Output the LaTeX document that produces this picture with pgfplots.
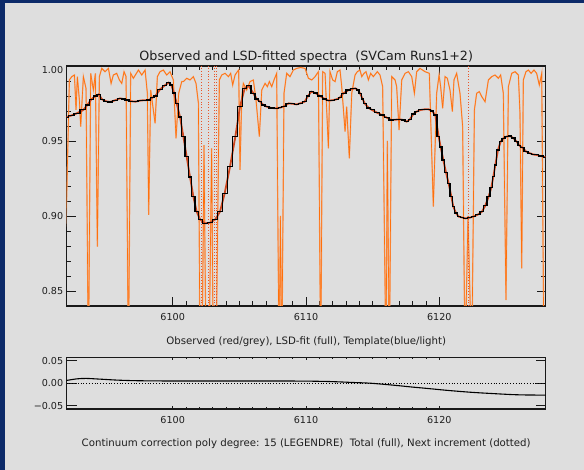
\documentclass[border=0pt]{standalone}
\usepackage{fontspec}
\setmainfont{DejaVu Sans}
\usepackage{pgfplots}
\pgfplotsset{compat=1.18}
\definecolor{bgc}{RGB}{222,222,222}
\definecolor{frameblue}{RGB}{12,42,105}
\definecolor{orgdark}{RGB}{255,112,10}
\definecolor{orglight}{RGB}{246,165,115}
\definecolor{obsred}{RGB}{205,70,30}
\definecolor{dotred}{RGB}{232,85,40}
\definecolor{axc}{RGB}{25,25,25}
\definecolor{txt}{RGB}{30,30,30}
\begin{document}
\begin{tikzpicture}[x=1bp,y=1bp]
\useasboundingbox (0,0) rectangle (584,470);
\fill[frameblue] (0,0) rectangle (584,470);
\fill[bgc] (5,0) rectangle (584,467);
\pgfplotsset{
  myaxis/.style={
    scale only axis, anchor=south west,
    xmin=6092.05, xmax=6127.98,
    xtick={6100,6110,6120}, xticklabels={6100,6110,6120},
    minor x tick num=9,
    tick align=inside,
    xtick pos=both, ytick pos=both,
    xticklabel pos=lower, yticklabel pos=left,
    scaled x ticks=false, scaled y ticks=false,
    axis line style={axc, line width=1.1pt},
    every tick/.style={axc, line width=0.8pt},
    tick label style={font=\fontsize{9.6bp}{11bp}\selectfont, text=txt},
    xticklabel style={anchor=base, yshift=-14.5bp},
    clip=true,
  }
}
% ---------------- top panel ----------------
\begin{axis}[myaxis,
  at={(66.7bp,164bp)}, width=479bp, height=240bp,
  ymin=0.84, ymax=1.0,
  ytick={0.85,0.90,0.95,1.00},
  yticklabels={0.85,0.90,0.95,\raisebox{-3.7bp}[7bp][0bp]{1.00}},
  minor y tick num=4,
  major tick length=9bp, minor tick length=4.5bp,
]
% observed spectrum (orange), two tones
\def\obsdata{(6092.0,0.893) (6092.25,0.9907) (6092.43,0.9929) (6092.63,0.994) (6092.75,0.9707) (6092.85,0.9929) (6093.0,0.9773) (6093.1,0.9596) (6093.3,0.9929) (6093.5,0.985) (6093.68,0.80) (6093.85,0.9951) (6094.05,0.984) (6094.2,0.995) (6094.35,0.8796) (6094.5,0.9929) (6094.68,0.9984) (6094.93,0.9962) (6095.18,0.9984) (6095.38,0.9884) (6095.55,0.994) (6095.8,0.9951) (6096.0,0.9907) (6096.18,0.9884) (6096.35,0.9962) (6096.5,0.993) (6096.68,0.80) (6096.85,0.9951) (6097.05,0.9918) (6097.43,0.9973) (6097.68,0.994) (6097.93,0.9973) (6098.1,0.9818) (6098.2,0.9007) (6098.35,0.984) (6098.68,0.9618) (6098.85,0.9929) (6099.05,0.9962) (6099.3,0.9973) (6099.55,0.994) (6099.8,0.9962) (6100.05,0.9907) (6100.25,0.9518) (6100.45,0.9818) (6100.68,0.9896) (6100.8,0.9896) (6101.05,0.9918) (6101.3,0.9907) (6101.55,0.9929) (6101.75,0.9884) (6101.93,0.9751) (6102.05,0.80) (6102.2,0.80) (6102.35,0.9473) (6102.5,0.80) (6102.75,0.82) (6102.92,0.9451) (6103.05,0.80) (6103.25,0.80) (6103.5,0.9907) (6103.68,0.994) (6103.93,0.9951) (6104.18,0.9929) (6104.35,0.9951) (6104.5,0.9873) (6104.68,0.994) (6104.85,0.9962) (6104.95,0.9973) (6105.05,0.9307) (6105.18,0.9796) (6105.3,0.9884) (6105.55,0.984) (6105.8,0.9896) (6106.05,0.9907) (6106.25,0.9773) (6106.5,0.9529) (6106.68,0.984) (6106.93,0.9884) (6107.1,0.9862) (6107.25,0.9896) (6107.43,0.9862) (6107.6,0.9907) (6107.8,0.9951) (6107.98,0.80) (6108.08,0.90) (6108.18,0.80) (6108.35,0.9818) (6108.55,0.9951) (6108.8,0.9929) (6109.05,0.9973) (6109.3,0.9984) (6109.6,0.999) (6109.93,0.9984) (6110.18,0.9918) (6110.43,0.9907) (6110.68,0.9929) (6110.93,0.9962) (6111.1,0.80) (6111.25,0.9962) (6111.43,0.9951) (6111.68,0.9451) (6111.8,0.9962) (6112.0,0.9907) (6112.18,0.9896) (6112.35,0.9962) (6112.55,0.9973) (6112.68,0.9862) (6112.93,0.9562) (6113.05,0.9729) (6113.25,0.9384) (6113.43,0.9818) (6113.68,0.994) (6113.85,0.9962) (6114.05,0.9973) (6114.18,0.9929) (6114.35,0.9951) (6114.5,0.9962) (6114.68,0.9907) (6114.85,0.9951) (6115.05,0.9929) (6115.35,0.9962) (6115.55,0.994) (6115.75,0.9862) (6116.0,0.80) (6116.1,0.95) (6116.25,0.80) (6116.43,0.9929) (6116.68,0.9907) (6116.8,0.9862) (6116.98,0.9573) (6117.18,0.9907) (6117.43,0.9951) (6117.68,0.9962) (6117.93,0.9929) (6118.13,0.9818) (6118.3,0.9962) (6118.55,0.9984) (6118.93,0.9962) (6119.25,0.9951) (6119.55,0.9062) (6119.8,0.9818) (6119.98,0.994) (6120.1,0.9862) (6120.25,0.9718) (6120.43,0.9929) (6120.6,0.9918) (6120.8,0.984) (6120.98,0.9696) (6121.1,0.9907) (6121.3,0.9951) (6121.55,0.9818) (6121.75,0.9596) (6121.93,0.80) (6122.15,0.90) (6122.43,0.80) (6122.63,0.9707) (6122.8,0.9818) (6123.0,0.9829) (6123.18,0.9796) (6123.43,0.9762) (6123.68,0.9907) (6123.93,0.9929) (6124.18,0.994) (6124.43,0.9918) (6124.6,0.994) (6124.8,0.9818) (6125.0,0.844) (6125.18,0.9862) (6125.43,0.9951) (6125.68,0.9962) (6125.93,0.994) (6126.05,0.9684) (6126.18,0.8651) (6126.3,0.9907) (6126.5,0.9962) (6126.68,0.9973) (6126.88,0.9951) (6127.1,0.9973) (6127.3,0.9951) (6127.5,0.9873) (6127.68,0.9951) (6127.85,0.80) (6128.0,0.80)}
\addplot[orglight, line width=1.3pt] coordinates {\obsdata};
\addplot[orgdark, line width=0.6pt] coordinates {\obsdata};
% line positions (dotted)
\addplot[dotred, dotted, line width=0.8pt] coordinates {(6102.12,0.84) (6102.12,1.0)};
\addplot[dotred, dotted, line width=0.8pt] coordinates {(6102.67,0.84) (6102.67,1.0)};
\addplot[dotred, dotted, line width=0.8pt] coordinates {(6103.12,0.84) (6103.12,1.0)};
\addplot[dotred, dotted, line width=0.8pt] coordinates {(6103.25,0.84) (6103.25,1.0)};
\addplot[dotred, dotted, line width=0.8pt] coordinates {(6122.2,0.84) (6122.2,1.0)};
% LSD fit
\def\fitdata{(6092.0,0.9658) (6092.4,0.967) (6092.8,0.9684) (6093.3,0.9707) (6093.6,0.974) (6093.9,0.9778) (6094.2,0.980) (6094.45,0.9811) (6094.7,0.9778) (6095.0,0.9765) (6095.3,0.976) (6095.7,0.9772) (6096.05,0.9784) (6096.3,0.978) (6096.55,0.9773) (6096.9,0.9765) (6097.2,0.9762) (6097.6,0.977) (6097.9,0.9772) (6098.2,0.9773) (6098.5,0.979) (6098.7,0.980) (6099.05,0.9844) (6099.4,0.987) (6099.7,0.9889) (6099.9,0.9873) (6100.1,0.982) (6100.3,0.9751) (6100.55,0.966) (6100.8,0.953) (6101.05,0.9395) (6101.3,0.926) (6101.55,0.9129) (6101.8,0.9029) (6102.05,0.8978) (6102.4,0.8951) (6102.8,0.8955) (6103.2,0.8978) (6103.55,0.9029) (6103.9,0.9151) (6104.3,0.9329) (6104.7,0.9529) (6105.05,0.9729) (6105.4,0.9851) (6105.7,0.9867) (6106.05,0.9818) (6106.3,0.978) (6106.55,0.9762) (6106.8,0.974) (6107.05,0.9729) (6107.4,0.972) (6107.8,0.9718) (6108.05,0.9722) (6108.3,0.9729) (6108.7,0.9751) (6109.0,0.9748) (6109.3,0.9744) (6109.6,0.9752) (6109.9,0.9762) (6110.15,0.980) (6110.4,0.9829) (6110.7,0.982) (6111.05,0.980) (6111.4,0.978) (6111.7,0.9769) (6112.0,0.9772) (6112.3,0.9778) (6112.55,0.979) (6112.8,0.9818) (6113.2,0.984) (6113.5,0.9848) (6113.7,0.9851) (6113.9,0.984) (6114.05,0.9818) (6114.25,0.978) (6114.4,0.9751) (6114.7,0.972) (6114.95,0.9707) (6115.3,0.969) (6115.7,0.9673) (6116.05,0.9656) (6116.4,0.964) (6116.7,0.9642) (6117.05,0.9644) (6117.3,0.964) (6117.55,0.9629) (6117.8,0.9645) (6118.05,0.968) (6118.3,0.9696) (6118.6,0.9707) (6118.9,0.9711) (6119.2,0.9711) (6119.45,0.970) (6119.7,0.9673) (6119.95,0.9529) (6120.1,0.946) (6120.3,0.9373) (6120.5,0.929) (6120.7,0.9218) (6120.9,0.913) (6121.05,0.9062) (6121.25,0.902) (6121.45,0.8996) (6121.7,0.899) (6121.95,0.8984) (6122.25,0.8988) (6122.55,0.8996) (6122.9,0.901) (6123.2,0.9029) (6123.45,0.907) (6123.7,0.9129) (6123.9,0.919) (6124.05,0.9262) (6124.2,0.934) (6124.4,0.944) (6124.6,0.9495) (6124.8,0.9518) (6125.05,0.953) (6125.3,0.9533) (6125.55,0.952) (6125.8,0.9496) (6126.0,0.947) (6126.2,0.9458) (6126.5,0.943) (6126.8,0.9418) (6127.05,0.941) (6127.3,0.9407) (6127.6,0.940) (6127.98,0.9391)}
\addplot[obsred, line width=1.8pt] coordinates {\fitdata};
\addplot[black, line width=1.1pt, const plot mark mid] coordinates {\fitdata};
\end{axis}
% ---------------- bottom panel ----------------
\begin{axis}[myaxis,
  at={(66.7bp,61bp)}, width=479bp, height=51.7bp,
  ymin=-0.0575, ymax=0.0575,
  ytick={-0.05,0,0.05}, yticklabels={−0.05,0.00,0.05},
  major tick length=3bp, minor tick length=1.5bp,
  ytick style={/pgfplots/major tick length=10bp},
]
\addplot[black, dotted, line width=0.8pt] coordinates {(6092.05,0) (6127.98,0)};
\addplot[black, line width=1.1pt, smooth] coordinates {(6092.0,0.0058) (6092.8,0.0095) (6093.5,0.0105) (6094.5,0.009) (6095.8,0.0068) (6097,0.0056) (6098.5,0.005) (6100,0.0048) (6102,0.0047) (6104,0.0047) (6106,0.0048) (6108,0.0048) (6110,0.0045) (6111.5,0.0038) (6112.5,0.0028) (6113.5,0.0015) (6114.75,0.0) (6116,-0.003) (6117,-0.0058) (6118,-0.0088) (6119,-0.0115) (6120.5,-0.0158) (6122,-0.0195) (6123,-0.0215) (6124.5,-0.024) (6125.5,-0.0255) (6126.5,-0.0263) (6127.98,-0.0266)};
\end{axis}
% ---------------- texts ----------------
\node[anchor=base, text=txt, font=\fontsize{12.7bp}{15bp}\selectfont] at (306.2,409) {Observed and LSD-fitted spectra\ \ (SVCam Runs1+2)};
\node[anchor=base, text=txt, font=\fontsize{10.2bp}{12bp}\selectfont] at (306.2,125.3) {Observed (red/grey), LSD-fit (full), Template(blue/light)};
\node[anchor=base, text=txt, font=\fontsize{10.2bp}{12bp}\selectfont] at (306.2,23.3) {Continuum correction poly degree: 15 (LEGENDRE)\ \ Total (full), Next increment (dotted)};
\end{tikzpicture}
\end{document}
